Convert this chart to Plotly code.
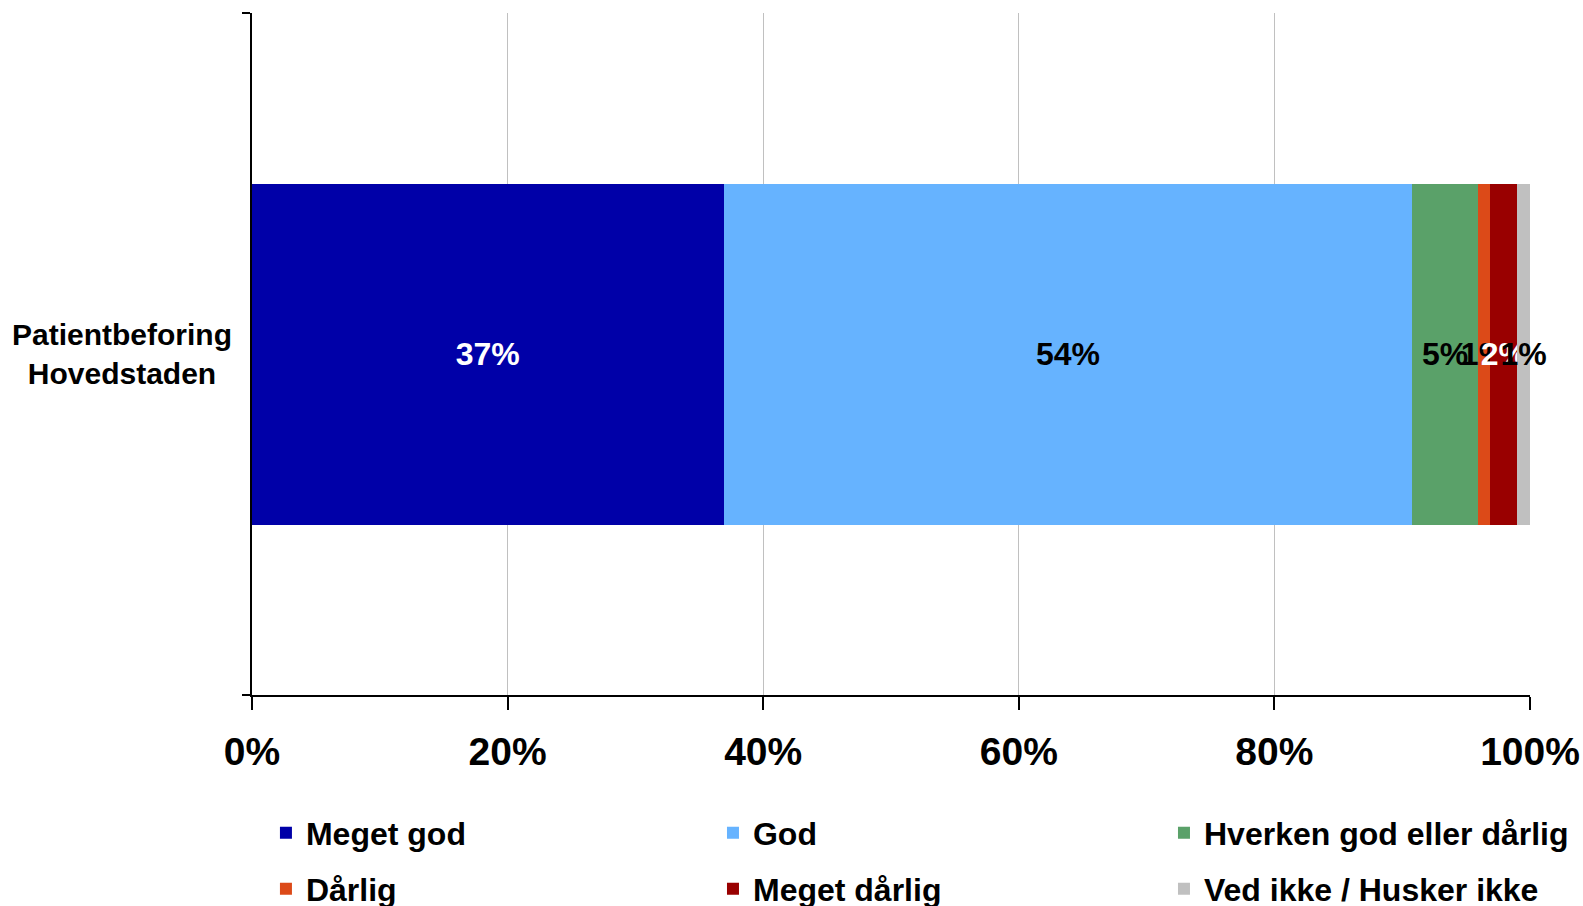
import plotly.graph_objects as go

category = ["Patientbeforing Hovedstaden"]
category_label = "Patientbeforing<br>Hovedstaden"
series_names = ["Meget god", "God", "Hverken god eller dårlig",
                "Dårlig", "Meget dårlig", "Ved ikke / Husker ikke"]
series_values = [36.9, 53.9, 5.1, 1.0, 2.1, 1.0]
x_ticks = [0, 20, 40, 60, 80, 100]

colors = ["#0000A8", "#66B3FF", "#5AA169", "#DC4A18", "#990000", "#C0C0C0"]
text_colors = ["#FFFFFF", "#000000", "#000000", "#000000", "#FFFFFF", "#000000"]

FONT = "Liberation Sans, Arial, sans-serif"

# legend grid: 3 columns x 2 rows (container fractions)
legend_cols = [0.1680, 0.4504, 0.7353]
legend_rows = [1 - 833 / 906, 1 - 889 / 906]

fig = go.Figure()
legend_layout = {}
for i, (name, val, col, tcol) in enumerate(zip(series_names, series_values, colors, text_colors)):
    lg = "legend" if i == 0 else f"legend{i + 1}"
    fig.add_trace(go.Bar(
        name=name, y=category, x=[val], orientation="h",
        marker=dict(color=col, line=dict(width=0)),
        texttemplate="%{x:.0f}%", textposition="inside",
        insidetextanchor="middle", textangle=0, constraintext="none",
        textfont=dict(color=tcol, size=32, family=FONT, weight="bold"),
        cliponaxis=False, legend=lg, hoverinfo="name+x",
    ))
    legend_layout[lg] = dict(
        orientation="h", xanchor="left", yanchor="middle",
        xref="container", yref="container",
        x=legend_cols[i % 3], y=legend_rows[i // 3],
        font=dict(size=32, family=FONT, color="#000000", weight="bold"),
        bgcolor="rgba(0,0,0,0)", borderwidth=0,
    )

fig.add_annotation(
    x=-0.102, xref="paper", y=category[0], yref="y",
    text=category_label, showarrow=False, align="center",
    xanchor="center", yanchor="middle",
    font=dict(size=30, family=FONT, color="#000000", weight="bold"),
)

fig.update_layout(
    width=1583, height=906,
    margin=dict(l=252, r=53, t=13, b=211, pad=0, autoexpand=False),
    paper_bgcolor="#FFFFFF", plot_bgcolor="#FFFFFF",
    barmode="stack", bargap=0.5,
    font=dict(family=FONT, color="#000000", weight="bold"),
    showlegend=True,
    xaxis=dict(
        range=[0, 100], tickvals=x_ticks, ticktext=[f"{t}%" for t in x_ticks],
        showgrid=True, gridcolor="#C0C0C0", gridwidth=1,
        showline=True, linecolor="#000000", linewidth=2,
        ticks="outside", ticklen=13, tickwidth=2, tickcolor="#000000",
        ticklabelstandoff=8,
        tickfont=dict(size=39, family=FONT, color="#000000", weight="bold"),
        zeroline=False, fixedrange=True, automargin=False,
    ),
    yaxis=dict(
        range=[-0.5, 0.5], showticklabels=False, tickson="boundaries",
        ticks="outside", ticklen=8, tickwidth=2, tickcolor="#000000",
        showline=True, linecolor="#000000", linewidth=2,
        showgrid=False, zeroline=False, fixedrange=True, automargin=False,
    ),
    **legend_layout,
)

fig.write_html("out.html", config={"displayModeBar": False},
               post_script="document.body.style.margin='0';")
